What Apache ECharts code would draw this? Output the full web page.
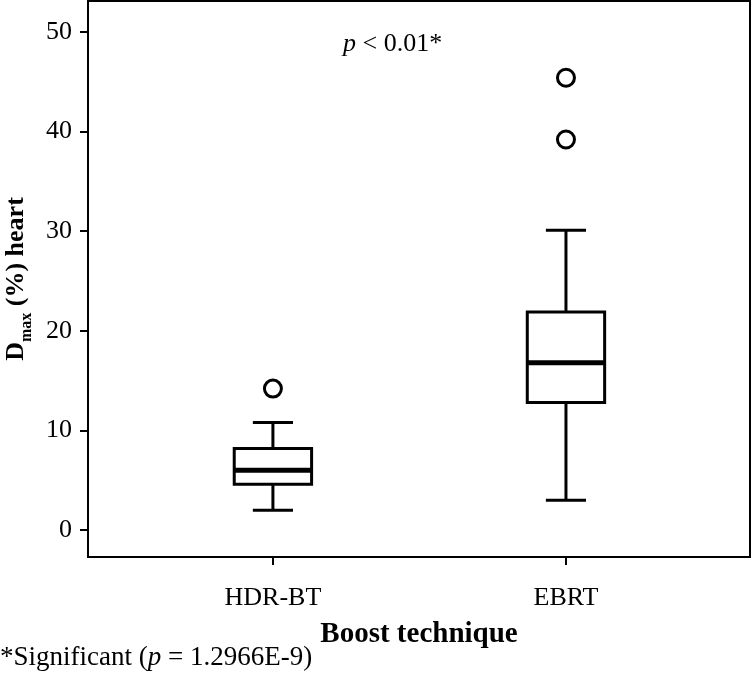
<!DOCTYPE html>
<html>
<head>
<meta charset="utf-8">
<script src="https://cdn.jsdelivr.net/npm/echarts@6/dist/echarts.min.js"></script>
<style>
  html, body { margin: 0; padding: 0; background: #fff; }
  #chart { width: 752px; height: 675px; }
</style>
</head>
<body>
<div id="chart"></div>
<script>
// boost technique groups
var categories = ['HDR-BT', 'EBRT'];
// [low whisker, Q1, median, Q3, high whisker]
var boxStats = [
  [2.0, 4.6, 6.0, 8.2, 10.8],
  [3.0, 12.8, 16.8, 21.9, 30.1]
];
// outliers: [group index, value]
var outliers = [
  [0, 14.2],
  [1, 45.4],
  [1, 39.2]
];
var yTicks = [0, 10, 20, 30, 40, 50];

var FONT = '"Liberation Serif", "DejaVu Serif", serif';

var chart = echarts.init(document.getElementById('chart'));

var boxData = boxStats.map(function (s, i) {
  return [i + 1].concat(s);
});
var outlierData = outliers.map(function (o) {
  return [o[0] + 1, o[1]];
});

var option = {
  animation: false,
  grid: {
    left: 88, right: 2, top: 1, bottom: 118,
    outerBoundsMode: 'none',
    containLabel: false,
    show: true,
    borderColor: '#000',
    borderWidth: 2
  },
  xAxis: {
    type: 'value',
    min: 0.369,
    max: 2.628,
    name: 'Boost technique',
    nameLocation: 'middle',
    nameGap: 63,
    nameTextStyle: { fontFamily: FONT, fontWeight: 'bold', fontSize: 29, color: '#000' },
    axisLine: { show: true, onZero: false, lineStyle: { color: '#000', width: 2 } },
    axisTick: { show: true, length: 8, lineStyle: { color: '#000', width: 2 }, customValues: [1, 2] },
    axisLabel: {
      customValues: [1, 2],
      margin: 28,
      fontFamily: FONT, fontSize: 26, color: '#000',
      formatter: function (v) { return categories[Math.round(v) - 1] || ''; }
    },
    splitLine: { show: false }
  },
  yAxis: {
    type: 'value',
    min: -2.7,
    max: 53.1,
    name: '{b|D}{s|max}{b| (%) heart}',
    nameLocation: 'middle',
    nameRotate: 90,
    nameGap: 59,
    nameTextStyle: {
      rich: {
        b: { fontFamily: FONT, fontWeight: 'bold', fontSize: 26, color: '#000', lineHeight: 30, verticalAlign: 'bottom' },
        s: { fontFamily: FONT, fontWeight: 'bold', fontSize: 16, color: '#000', lineHeight: 30, verticalAlign: 'bottom', padding: [0, 0, -6, 0] }
      }
    },
    axisLine: { show: true, onZero: false, lineStyle: { color: '#000', width: 2 } },
    axisTick: { show: true, length: 8, lineStyle: { color: '#000', width: 2 }, customValues: yTicks },
    axisLabel: {
      customValues: yTicks,
      margin: 16,
      fontFamily: FONT, fontSize: 26, color: '#000'
    },
    splitLine: { show: false }
  },
  graphic: [
    {
      type: 'text',
      left: 343, top: 31,
      style: {
        text: '{i|p} < 0.01*',
        rich: {
          i: { fontFamily: FONT, fontStyle: 'italic', fontSize: 26, fill: '#000' }
        },
        fontFamily: FONT, fontSize: 26, fill: '#000'
      }
    },
    {
      type: 'text',
      left: 0, top: 644,
      style: {
        text: '*Significant ({i|p} = 1.2966E-9)',
        rich: {
          i: { fontFamily: FONT, fontStyle: 'italic', fontSize: 27, fill: '#000' }
        },
        fontFamily: FONT, fontSize: 27, fill: '#000'
      }
    }
  ],
  series: [
    {
      type: 'custom',
      data: boxData,
      renderItem: function (params, api) {
        var x = api.value(0);
        var low = api.coord([x, api.value(1)]);
        var q1 = api.coord([x, api.value(2)]);
        var med = api.coord([x, api.value(3)]);
        var q3 = api.coord([x, api.value(4)]);
        var high = api.coord([x, api.value(5)]);
        var halfBox = api.size([0.264, 0])[0] / 2;
        var halfCap = api.size([0.137, 0])[0] / 2;
        var cx = low[0];
        var line = { stroke: '#000', lineWidth: 3 };
        return {
          type: 'group',
          children: [
            { type: 'line', shape: { x1: cx, y1: high[1], x2: cx, y2: q3[1] }, style: line },
            { type: 'line', shape: { x1: cx, y1: q1[1], x2: cx, y2: low[1] }, style: line },
            { type: 'line', shape: { x1: cx - halfCap, y1: high[1], x2: cx + halfCap, y2: high[1] }, style: line },
            { type: 'line', shape: { x1: cx - halfCap, y1: low[1], x2: cx + halfCap, y2: low[1] }, style: line },
            {
              type: 'rect',
              shape: { x: cx - halfBox, y: q3[1], width: halfBox * 2, height: q1[1] - q3[1] },
              style: { fill: '#fff', stroke: '#000', lineWidth: 3 }
            },
            { type: 'line', shape: { x1: cx - halfBox, y1: med[1], x2: cx + halfBox, y2: med[1] }, style: { stroke: '#000', lineWidth: 5 } }
          ]
        };
      }
    },
    {
      type: 'scatter',
      data: outlierData,
      symbol: 'circle',
      symbolSize: 17,
      itemStyle: { color: '#fff', borderColor: '#000', borderWidth: 3, opacity: 1 }
    }
  ]
};

chart.setOption(option);
</script>
</body>
</html>
